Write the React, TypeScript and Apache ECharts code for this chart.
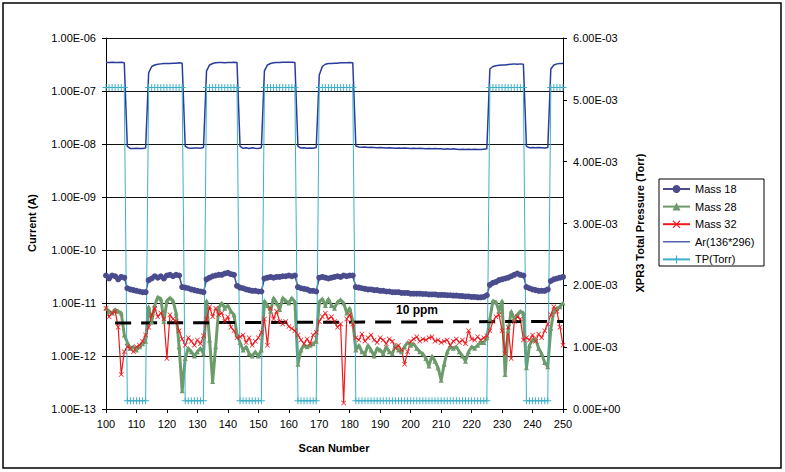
import React, { useEffect, useRef } from "react";
import * as echarts from "echarts";

const SCAN_START = 100;
const X_MIN = 100;
const X_MAX = 250;
const X_STEP = 10;

const seriesNames = ["Mass 18", "Mass 28", "Mass 32", "Ar(136*296)", "TP(Torr)"];

// Mass 18 current (A), scans 100..250
const mass18 = [
  3.3e-11, 2.9e-11, 3.3e-11, 3.2e-11, 2.8e-11, 3.1e-11, 3.0e-11, 1.9e-11, 1.8e-11, 1.75e-11,
  1.7e-11, 1.65e-11, 1.6e-11, 1.6e-11, 2.7e-11, 2.9e-11, 3.2e-11, 3.0e-11, 3.2e-11, 2.9e-11,
  3.3e-11, 3.4e-11, 3.2e-11, 3.4e-11, 3.3e-11, 2.0e-11, 1.95e-11, 1.9e-11, 1.8e-11, 1.75e-11,
  1.7e-11, 1.65e-11, 1.6e-11, 2.8e-11, 3.0e-11, 3.2e-11, 3.3e-11, 3.4e-11, 3.4e-11, 3.6e-11,
  3.7e-11, 3.5e-11, 3.4e-11, 2.1e-11, 1.95e-11, 1.9e-11, 1.8e-11, 1.75e-11, 1.7e-11, 1.7e-11,
  1.65e-11, 1.65e-11, 2.9e-11, 3.0e-11, 3.1e-11, 3.0e-11, 3.1e-11, 3.1e-11, 3.2e-11, 3.2e-11,
  3.3e-11, 3.2e-11, 3.3e-11, 2.0e-11, 1.9e-11, 1.85e-11, 1.8e-11, 1.7e-11, 1.7e-11, 1.65e-11,
  3.0e-11, 3.1e-11, 3.0e-11, 2.9e-11, 3.0e-11, 3.1e-11, 3.2e-11, 3.1e-11, 3.3e-11, 3.2e-11,
  3.3e-11, 3.3e-11, 2.0e-11, 1.95e-11, 1.9e-11, 1.85e-11, 1.8e-11, 1.8e-11, 1.75e-11, 1.75e-11,
  1.7e-11, 1.7e-11, 1.65e-11, 1.65e-11, 1.6e-11, 1.6e-11, 1.6e-11, 1.55e-11, 1.55e-11, 1.55e-11,
  1.5e-11, 1.5e-11, 1.5e-11, 1.5e-11, 1.48e-11, 1.48e-11, 1.45e-11, 1.45e-11, 1.45e-11, 1.42e-11,
  1.42e-11, 1.42e-11, 1.4e-11, 1.4e-11, 1.38e-11, 1.38e-11, 1.36e-11, 1.35e-11, 1.33e-11, 1.33e-11,
  1.3e-11, 1.3e-11, 1.28e-11, 1.28e-11, 1.3e-11, 1.4e-11, 2.2e-11, 2.4e-11, 2.5e-11, 2.7e-11,
  2.8e-11, 2.9e-11, 3.0e-11, 3.2e-11, 3.4e-11, 3.6e-11, 3.4e-11, 3.3e-11, 2.0e-11, 1.9e-11,
  1.8e-11, 1.75e-11, 1.7e-11, 1.7e-11, 1.7e-11, 1.8e-11, 2.6e-11, 2.8e-11, 2.9e-11, 3.0e-11,
  3.1e-11,
];

// Mass 28 current (A)
const mass28 = [
  8e-12, 7e-12, 6.5e-12, 7.5e-12, 7e-12, 6.5e-12, 2.5e-12, 1.8e-12, 1.4e-12, 1.5e-12,
  1.3e-12, 1.5e-12, 1.7e-12, 1.9e-12, 8.5e-12, 4.5e-12, 9e-12, 1.3e-11, 1.2e-11, 4.5e-12,
  1.1e-11, 1.25e-11, 1.1e-11, 6.5e-12, 1.5e-12, 2.2e-13, 9e-13, 1.4e-12, 1.2e-12, 1.0e-12,
  1.2e-12, 1.4e-12, 1.1e-12, 1.1e-11, 2e-12, 3.3e-13, 1.5e-12, 8e-12, 1e-11, 8e-12,
  9e-12, 7e-12, 6e-12, 2.5e-12, 1.8e-12, 1.3e-12, 1.5e-12, 1.1e-12, 1.0e-12, 1.2e-12,
  1.0e-12, 1.3e-12, 1.1e-11, 9e-12, 7e-12, 1.25e-11, 1e-11, 7.5e-12, 1.25e-11, 1.1e-11,
  1e-11, 1.25e-11, 1.05e-11, 7e-13, 1.3e-12, 1.6e-12, 1.5e-12, 1.6e-12, 1.7e-12, 1.9e-12,
  1.05e-11, 1.2e-11, 9e-12, 1.2e-11, 9e-12, 8e-12, 1.05e-11, 1.15e-11, 1e-11, 6.5e-12,
  8e-12, 4.5e-12, 1.3e-12, 1.6e-12, 1.2e-12, 1.1e-12, 1.6e-12, 1.3e-12, 1.0e-12, 1.4e-12,
  1.3e-12, 1.1e-12, 1.5e-12, 1.2e-12, 1.1e-12, 1.6e-12, 1.3e-12, 1.2e-12, 1.5e-12, 1.8e-12,
  1.6e-12, 1.7e-12, 1.4e-12, 1.2e-12, 1.1e-12, 9e-13, 6.5e-13, 1.0e-12, 8e-13, 6e-13,
  3.5e-13, 7e-13, 1.2e-12, 1.5e-12, 1.4e-12, 1.5e-12, 1.2e-12, 1.0e-12, 8e-13, 1.2e-12,
  1.5e-12, 1.4e-12, 1.6e-12, 1.8e-12, 1.8e-12, 2.2e-12, 5e-12, 1.1e-11, 1.05e-11, 7e-12,
  1.1e-11, 4.5e-13, 3e-12, 7e-12, 5e-12, 6e-12, 7e-12, 6.5e-12, 6e-13, 1.6e-12,
  2.0e-12, 2.1e-12, 1.4e-12, 1.1e-12, 7.5e-13, 6.3e-13, 3.3e-12, 7e-12, 8e-12, 8.5e-12,
  1e-11,
];

// Mass 32 current (A)
const mass32 = [
  8e-12, 5.5e-12, 6.5e-12, 7e-12, 3.5e-12, 4.5e-13, 1.2e-12, 1.5e-12, 1.4e-12, 1.2e-12,
  1.5e-12, 1.6e-12, 1.9e-12, 2.5e-12, 3.5e-12, 6e-12, 8e-12, 5.5e-12, 6.5e-12, 5e-12,
  9e-13, 6e-12, 5e-12, 4.5e-12, 3e-12, 2.1e-12, 1.6e-12, 2.2e-12, 1.9e-12, 1.6e-12,
  2e-12, 1.7e-12, 2.4e-12, 5e-12, 8.5e-12, 5.5e-12, 8e-12, 6e-12, 6.5e-12, 4.5e-12,
  5.5e-12, 3.5e-12, 3e-12, 2.2e-12, 2.3e-12, 2.5e-12, 1.8e-12, 2.2e-12, 1.6e-12, 1.9e-12,
  2.2e-12, 2.8e-12, 5e-12, 1.6e-12, 8e-12, 5e-12, 7e-12, 4.5e-12, 4e-12, 4.5e-12,
  3.6e-12, 3.3e-12, 3e-12, 2.5e-12, 2.0e-12, 1.7e-12, 2.1e-12, 1.7e-12, 2.5e-12, 2.8e-12,
  4.5e-12, 5.5e-12, 6.4e-12, 5e-12, 5.5e-12, 4.5e-12, 3.5e-12, 4e-12, 1.3e-13, 5e-12,
  6e-12, 4e-12, 2.2e-12, 2.0e-12, 2.6e-12, 1.9e-12, 2.2e-12, 2.5e-12, 2.0e-12, 1.8e-12,
  2.2e-12, 2.0e-12, 1.7e-12, 2.1e-12, 1.9e-12, 1.4e-12, 1.6e-12, 1.3e-12, 7e-13, 1.2e-12,
  1.9e-12, 2.1e-12, 2.3e-12, 1.9e-12, 2.1e-12, 2.0e-12, 2.2e-12, 2.3e-12, 1.9e-12, 2.0e-12,
  1.8e-12, 1.9e-12, 2.0e-12, 1.6e-12, 1.9e-12, 2.1e-12, 1.8e-12, 2.0e-12, 1.7e-12, 3e-12,
  2.1e-12, 2.0e-12, 2.3e-12, 2.0e-12, 2.2e-12, 2.4e-12, 3e-12, 4.5e-12, 5.5e-12, 6e-12,
  3e-12, 1.1e-12, 3.5e-12, 9e-13, 4.5e-12, 5.5e-12, 5e-12, 2e-12, 2.2e-12, 2.0e-12,
  2.5e-12, 1.9e-12, 2.6e-12, 2.2e-12, 3.0e-12, 4e-12, 6e-12, 8.5e-12, 7e-12, 3.5e-12,
  1.6e-12,
];

// Ar(136*296) current (A)
const argon = [
  3.45e-7, 3.45e-7, 3.5e-7, 3.45e-7, 3.45e-7, 3.5e-7, 3.4e-7, 9.0e-9, 8.2e-9, 8.2e-9,
  8.3e-9, 8.2e-9, 8.2e-9, 8.4e-9, 2.2e-7, 2.9e-7, 3.1e-7, 3.2e-7, 3.25e-7, 3.3e-7,
  3.3e-7, 3.3e-7, 3.35e-7, 3.35e-7, 3.4e-7, 3.35e-7, 9.0e-9, 8.4e-9, 8.3e-9, 8.4e-9,
  8.4e-9, 8.3e-9, 8.6e-9, 2.4e-7, 3.1e-7, 3.3e-7, 3.4e-7, 3.45e-7, 3.45e-7, 3.4e-7,
  3.45e-7, 3.45e-7, 3.5e-7, 3.45e-7, 9.0e-9, 8.3e-9, 8.5e-9, 8.2e-9, 8.5e-9, 8.3e-9,
  8.2e-9, 8.5e-9, 2.4e-7, 3.1e-7, 3.3e-7, 3.4e-7, 3.45e-7, 3.45e-7, 3.5e-7, 3.5e-7,
  3.5e-7, 3.5e-7, 3.45e-7, 9.0e-9, 8.4e-9, 8.5e-9, 8.3e-9, 8.4e-9, 8.3e-9, 8.6e-9,
  2.0e-7, 2.9e-7, 3.2e-7, 3.3e-7, 3.3e-7, 3.35e-7, 3.35e-7, 3.4e-7, 3.4e-7, 3.4e-7,
  3.45e-7, 3.4e-7, 9.2e-9, 8.8e-9, 8.7e-9, 8.8e-9, 8.6e-9, 8.7e-9, 8.6e-9, 8.5e-9,
  8.6e-9, 8.5e-9, 8.4e-9, 8.5e-9, 8.4e-9, 8.3e-9, 8.4e-9, 8.3e-9, 8.4e-9, 8.3e-9,
  8.2e-9, 8.3e-9, 8.2e-9, 8.3e-9, 8.2e-9, 8.1e-9, 8.2e-9, 8.1e-9, 8.2e-9, 8.1e-9,
  8.1e-9, 8.0e-9, 8.1e-9, 8.0e-9, 8.1e-9, 8.0e-9, 7.9e-9, 8.0e-9, 7.9e-9, 8.0e-9,
  7.9e-9, 8.0e-9, 7.9e-9, 7.9e-9, 8.0e-9, 8.1e-9, 2.6e-7, 2.9e-7, 3.0e-7, 3.05e-7,
  3.1e-7, 3.1e-7, 3.15e-7, 3.2e-7, 3.25e-7, 3.2e-7, 3.25e-7, 3.2e-7, 9.0e-9, 8.5e-9,
  8.6e-9, 8.5e-9, 8.6e-9, 8.5e-9, 8.4e-9, 8.6e-9, 2.6e-7, 3.1e-7, 3.25e-7, 3.3e-7,
  3.3e-7,
];

// TP(Torr) total pressure, right axis
const totalPressure = [
  5.2e-3, 5.2e-3, 5.2e-3, 5.2e-3, 5.2e-3, 5.2e-3, 5.2e-3, 1.35e-4, 1.35e-4, 1.35e-4,
  1.35e-4, 1.35e-4, 1.35e-4, 1.35e-4, 5.2e-3, 5.2e-3, 5.2e-3, 5.2e-3, 5.2e-3, 5.2e-3,
  5.2e-3, 5.2e-3, 5.2e-3, 5.2e-3, 5.2e-3, 5.2e-3, 1.35e-4, 1.35e-4, 1.35e-4, 1.35e-4,
  1.35e-4, 1.35e-4, 1.35e-4, 5.2e-3, 5.2e-3, 5.2e-3, 5.2e-3, 5.2e-3, 5.2e-3, 5.2e-3,
  5.2e-3, 5.2e-3, 5.2e-3, 5.2e-3, 1.35e-4, 1.35e-4, 1.35e-4, 1.35e-4, 1.35e-4, 1.35e-4,
  1.35e-4, 1.35e-4, 5.2e-3, 5.2e-3, 5.2e-3, 5.2e-3, 5.2e-3, 5.2e-3, 5.2e-3, 5.2e-3,
  5.2e-3, 5.2e-3, 5.2e-3, 1.35e-4, 1.35e-4, 1.35e-4, 1.35e-4, 1.35e-4, 1.35e-4, 1.35e-4,
  5.2e-3, 5.2e-3, 5.2e-3, 5.2e-3, 5.2e-3, 5.2e-3, 5.2e-3, 5.2e-3, 5.2e-3, 5.2e-3,
  5.2e-3, 5.2e-3, 1.35e-4, 1.35e-4, 1.35e-4, 1.35e-4, 1.35e-4, 1.35e-4, 1.35e-4, 1.35e-4,
  1.35e-4, 1.35e-4, 1.35e-4, 1.35e-4, 1.35e-4, 1.35e-4, 1.35e-4, 1.35e-4, 1.35e-4, 1.35e-4,
  1.35e-4, 1.35e-4, 1.35e-4, 1.35e-4, 1.35e-4, 1.35e-4, 1.35e-4, 1.35e-4, 1.35e-4, 1.35e-4,
  1.35e-4, 1.35e-4, 1.35e-4, 1.35e-4, 1.35e-4, 1.35e-4, 1.35e-4, 1.35e-4, 1.35e-4, 1.35e-4,
  1.35e-4, 1.35e-4, 1.35e-4, 1.35e-4, 1.35e-4, 1.35e-4, 5.2e-3, 5.2e-3, 5.2e-3, 5.2e-3,
  5.2e-3, 5.2e-3, 5.2e-3, 5.2e-3, 5.2e-3, 5.2e-3, 5.2e-3, 5.2e-3, 1.35e-4, 1.35e-4,
  1.35e-4, 1.35e-4, 1.35e-4, 1.35e-4, 1.35e-4, 1.35e-4, 5.2e-3, 5.2e-3, 5.2e-3, 5.2e-3,
  5.2e-3,
];

// 10 ppm reference line (scan, current)
const ppmScans = [103, 250];
const ppmValues = [4.2e-12, 4.5e-12];
const ppmLabel = "10 ppm";

const FONT = '"Liberation Sans", Arial, sans-serif';

function fmtExp(v: number): string {
  const s = Number(v).toExponential(2);
  const parts = s.split("e");
  const sign = parts[1][0] === "-" ? "-" : "+";
  const digits = parts[1].replace(/^[+-]/, "").padStart(2, "0");
  return `${parts[0]}E${sign}${digits}`;
}

const toPairs = (arr: number[]) => arr.map((v, i) => [SCAN_START + i, v]);

const X_SYMBOL = "path://M0,1L1,0L5,4L9,0L10,1L6,5L10,9L9,10L5,6L1,10L0,9L4,5Z";
const PLUS_SYMBOL = "path://M4.3,0H5.7V4.3H10V5.7H5.7V10H4.3V5.7H0V4.3H4.3Z";
const LINE_ICON = "path://M0,4.4H27V5.6H0Z";

export default function App() {
  const ref = useRef<HTMLDivElement>(null);
  useEffect(() => {
    if (!ref.current) return;
    const chart = echarts.init(ref.current, undefined, { renderer: "svg" });
    const colors = ["#4A4C8E", "#6D9B6B", "#F0191E", "#283C9C", "#3DB0C8"];
    chart.setOption({
      animation: false,
      backgroundColor: "#ffffff",
      grid: { left: 106, top: 38, width: 457, height: 371, containLabel: false },
      legend: {
        data: seriesNames.map((n, i) => (i === 3 ? { name: n, icon: LINE_ICON } : { name: n })),
        orient: "vertical",
        left: 662,
        top: 183,
        padding: 0,
        itemWidth: 27,
        itemHeight: 10,
        itemGap: 5.6,
        textStyle: { fontSize: 11, fontFamily: FONT, color: "#000", lineHeight: 12 },
        selectedMode: false,
      },
      xAxis: {
        type: "value",
        min: X_MIN,
        max: X_MAX,
        interval: X_STEP,
        axisLine: { show: true, lineStyle: { color: "#000", width: 1 } },
        axisTick: { show: true, length: 4, lineStyle: { color: "#000" } },
        axisLabel: { fontSize: 11, fontFamily: FONT, color: "#000", margin: 9 },
        splitLine: { show: false },
      },
      yAxis: [
        {
          type: "log",
          logBase: 10,
          min: 1e-13,
          max: 1e-6,
          splitNumber: 7,
          position: "left",
          axisLine: { show: true, lineStyle: { color: "#000", width: 1 } },
          axisTick: { show: true, length: 4, lineStyle: { color: "#000" } },
          axisLabel: {
            fontSize: 11,
            fontFamily: FONT,
            color: "#000",
            margin: 10,
            formatter: (v: number) => fmtExp(v),
          },
          splitLine: {
            show: true,
            lineStyle: {
              color: ["#111", "#111", "#111", "#111", "#111", "#111", "#111", "#999"],
              width: 1,
            },
          },
        },
        {
          type: "value",
          min: 0,
          max: 0.006,
          interval: 0.001,
          position: "right",
          axisLine: { show: true, lineStyle: { color: "#000", width: 1 } },
          axisTick: { show: true, length: 4, lineStyle: { color: "#000" } },
          axisLabel: {
            fontSize: 11,
            fontFamily: FONT,
            color: "#000",
            margin: 10,
            formatter: (v: number) => fmtExp(v),
          },
          splitLine: { show: false },
        },
      ],
      series: [
        {
          name: seriesNames[0],
          type: "line",
          yAxisIndex: 0,
          data: toPairs(mass18),
          symbol: "circle",
          symbolSize: 6,
          showAllSymbol: true,
          lineStyle: { color: colors[0], width: 1.5 },
          itemStyle: { color: colors[0] },
        },
        {
          name: seriesNames[1],
          type: "line",
          yAxisIndex: 0,
          data: toPairs(mass28),
          symbol: "triangle",
          symbolSize: 5,
          showAllSymbol: true,
          lineStyle: { color: colors[1], width: 3 },
          itemStyle: { color: colors[1] },
        },
        {
          name: seriesNames[2],
          type: "line",
          yAxisIndex: 0,
          data: toPairs(mass32),
          symbol: X_SYMBOL,
          symbolSize: 5,
          showAllSymbol: true,
          lineStyle: { color: colors[2], width: 1.2 },
          itemStyle: { color: colors[2] },
        },
        {
          name: seriesNames[3],
          type: "line",
          yAxisIndex: 0,
          data: toPairs(argon),
          symbol: "none",
          lineStyle: { color: colors[3], width: 1.5 },
          itemStyle: { color: colors[3] },
        },
        {
          name: seriesNames[4],
          type: "line",
          yAxisIndex: 1,
          data: toPairs(totalPressure),
          symbol: PLUS_SYMBOL,
          symbolSize: 7,
          showAllSymbol: true,
          lineStyle: { color: colors[4], width: 1 },
          itemStyle: { color: colors[4] },
        },
        {
          name: ppmLabel,
          type: "line",
          yAxisIndex: 0,
          data: ppmScans.map((s, i) => [s, ppmValues[i]]),
          symbol: "none",
          lineStyle: { color: "#000", width: 3, type: [16, 10] },
          z: 3,
        },
      ],
      graphic: [
        {
          type: "rect",
          shape: { x: 3, y: 3, width: 778, height: 465 },
          style: { fill: "none", stroke: "#000", lineWidth: 1.5 },
          silent: true,
        },
        {
          type: "rect",
          shape: { x: 659, y: 179, width: 105, height: 87 },
          style: { fill: "none", stroke: "#000", lineWidth: 1 },
          silent: true,
        },
        {
          type: "text",
          x: 32,
          y: 223,
          rotation: Math.PI / 2,
          style: {
            text: "Current (A)",
            font: `bold 11px ${FONT}`,
            fill: "#000",
            textAlign: "center",
            textVerticalAlign: "middle",
          },
        },
        {
          type: "text",
          x: 640,
          y: 223,
          rotation: Math.PI / 2,
          style: {
            text: "XPR3 Total Pressure (Torr)",
            font: `bold 11px ${FONT}`,
            fill: "#000",
            textAlign: "center",
            textVerticalAlign: "middle",
          },
        },
        {
          type: "text",
          x: 334,
          y: 448,
          style: {
            text: "Scan Number",
            font: `bold 11px ${FONT}`,
            fill: "#000",
            textAlign: "center",
            textVerticalAlign: "middle",
          },
        },
        {
          type: "text",
          x: 417,
          y: 310,
          style: {
            text: ppmLabel,
            font: `bold 12px ${FONT}`,
            fill: "#000",
            textAlign: "center",
            textVerticalAlign: "middle",
          },
        },
      ],
    });
    return () => chart.dispose();
  }, []);
  return (
    <div
      ref={ref}
      style={{ position: "fixed", left: 0, top: 0, width: 785, height: 472, background: "#fff" }}
    />
  );
}
